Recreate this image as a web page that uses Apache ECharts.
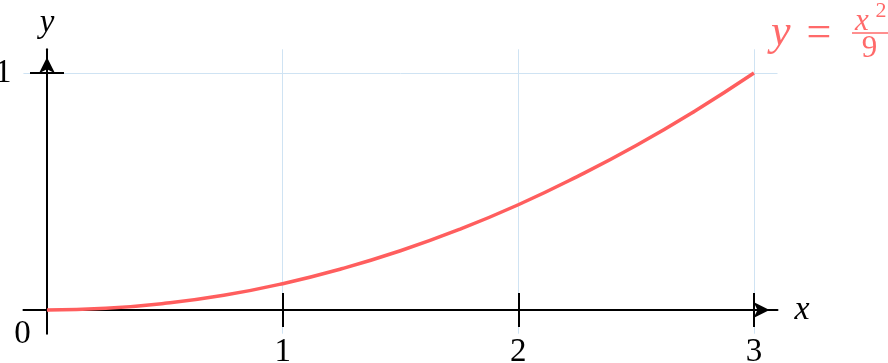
<!DOCTYPE html>
<html>
<head>
<meta charset="utf-8">
<script src="https://cdn.jsdelivr.net/npm/echarts@6.0.0/dist/echarts.min.js"></script>
<style>
html,body{margin:0;padding:0;background:#fff;}
#chart{width:888px;height:363px;}
</style>
</head>
<body>
<div id="chart"></div>
<script>
// ---- data ----
const xValues = [0, 0.25, 0.5, 0.75, 1, 1.25, 1.5, 1.75, 2, 2.25, 2.5, 2.75, 3];
const yValues = [0, 0.007, 0.028, 0.062, 0.111, 0.174, 0.25, 0.34, 0.444, 0.563, 0.694, 0.84, 1];
const xTicks = [1, 2, 3];
const yTicks = [1];
const xName = 'x';
const yName = 'y';
const originLabel = '0';

const FONT = 'Liberation Serif';
const LINE_COLOR = '#ff5e5e';
const TEXT_COLOR = '#ff6a6a';
const GRID_COLOR = '#cfe3f3';
const AX = '#000';

const seriesData = xValues.map((x, i) => [x, yValues[i]]);

const xRange = {min: -0.1, max: 3.1};
const yRange = {min: -0.1, max: 1.1};

const chart = echarts.init(document.getElementById('chart'), null, {renderer: 'canvas'});

function baseX(extra) {
  return Object.assign({
    type: 'value',
    min: xRange.min, max: xRange.max,
    axisLine: {show: false, onZero: true, onZeroAxisIndex: 0},
    axisTick: {show: true, length: 17, lineStyle: {color: AX, width: 2}, customValues: xTicks},
    axisLabel: {show: false, customValues: xTicks},
    splitLine: {show: false},
    minorTick: {show: false}
  }, extra);
}
function baseY(extra) {
  return Object.assign({
    type: 'value',
    min: yRange.min, max: yRange.max,
    axisLine: {show: false, onZero: true, onZeroAxisIndex: 0},
    axisTick: {show: true, length: 17, lineStyle: {color: AX, width: 2}, customValues: yTicks},
    axisLabel: {show: false, customValues: yTicks},
    splitLine: {show: false},
    minorTick: {show: false}
  }, extra);
}

function txt(text, x, y, size, italic, color, align) {
  return {type: 'text', x: x, y: y, z: 10,
    style: {text: text, fontFamily: FONT, fontSize: size, fontStyle: italic ? 'italic' : 'normal',
      fill: color, align: align || 'center', verticalAlign: 'middle'}};
}

const option = {
  animation: false,
  backgroundColor: '#fff',
  grid: {left: 23.43, right: 110.5, top: 49.3, bottom: 29.3, containLabel: false, outerBoundsMode: 'none'},
  xAxis: [
    baseX({
      position: 'bottom',
      name: xName,
      nameLocation: 'end',
      nameGap: 17,
      nameTextStyle: {fontFamily: FONT, fontStyle: 'italic', fontSize: 34, color: AX, padding: [0, 0, 9, 0]},
      axisLine: {show: true, onZero: true, onZeroAxisIndex: 0,
        lineStyle: {color: AX, width: 2},
        symbol: ['none', 'arrow'], symbolSize: [12, 16], symbolOffset: [0, -8]},
      axisLabel: {show: true, customValues: xTicks, margin: 2, fontFamily: FONT, fontSize: 33, color: AX},
      splitLine: {show: true, lineStyle: {color: GRID_COLOR, width: 1}}
    }),
    baseX({position: 'top'})
  ],
  yAxis: [
    baseY({
      position: 'left',
      name: yName,
      nameLocation: 'end',
      nameGap: 9,
      nameTextStyle: {fontFamily: FONT, fontStyle: 'italic', fontSize: 33, color: AX, align: 'center', verticalAlign: 'bottom'},
      axisLine: {show: true, onZero: true, onZeroAxisIndex: 0,
        lineStyle: {color: AX, width: 2},
        symbol: ['none', 'arrow'], symbolSize: [12, 16], symbolOffset: [0, -8]},
      axisLabel: {show: true, customValues: yTicks, margin: 12, fontFamily: FONT, fontSize: 33, color: AX},
      splitLine: {show: true, lineStyle: {color: GRID_COLOR, width: 1}}
    }),
    baseY({position: 'right'})
  ],
  series: [{
    type: 'line',
    xAxisIndex: 0,
    yAxisIndex: 0,
    data: seriesData,
    smooth: true,
    showSymbol: false,
    clip: false,
    lineStyle: {color: LINE_COLOR, width: 3.5},
    z: 5
  }],
  graphic: [
    txt(originLabel, 22.5, 334.5, 33, false, AX),
    // formula y = x^2 / 9
    txt('y', 771, 33, 44, true, TEXT_COLOR, 'left'),
    txt('=', 819, 34, 44, false, TEXT_COLOR),
    txt('x', 862, 21.5, 31, true, TEXT_COLOR),
    txt('2', 881, 11.6, 22, false, TEXT_COLOR),
    {type: 'line', z: 10, shape: {x1: 852, y1: 33, x2: 888, y2: 33},
      style: {stroke: TEXT_COLOR, lineWidth: 1.5}},
    txt('9', 869.5, 48.5, 31, false, TEXT_COLOR)
  ]
};

chart.setOption(option);
</script>
</body>
</html>
